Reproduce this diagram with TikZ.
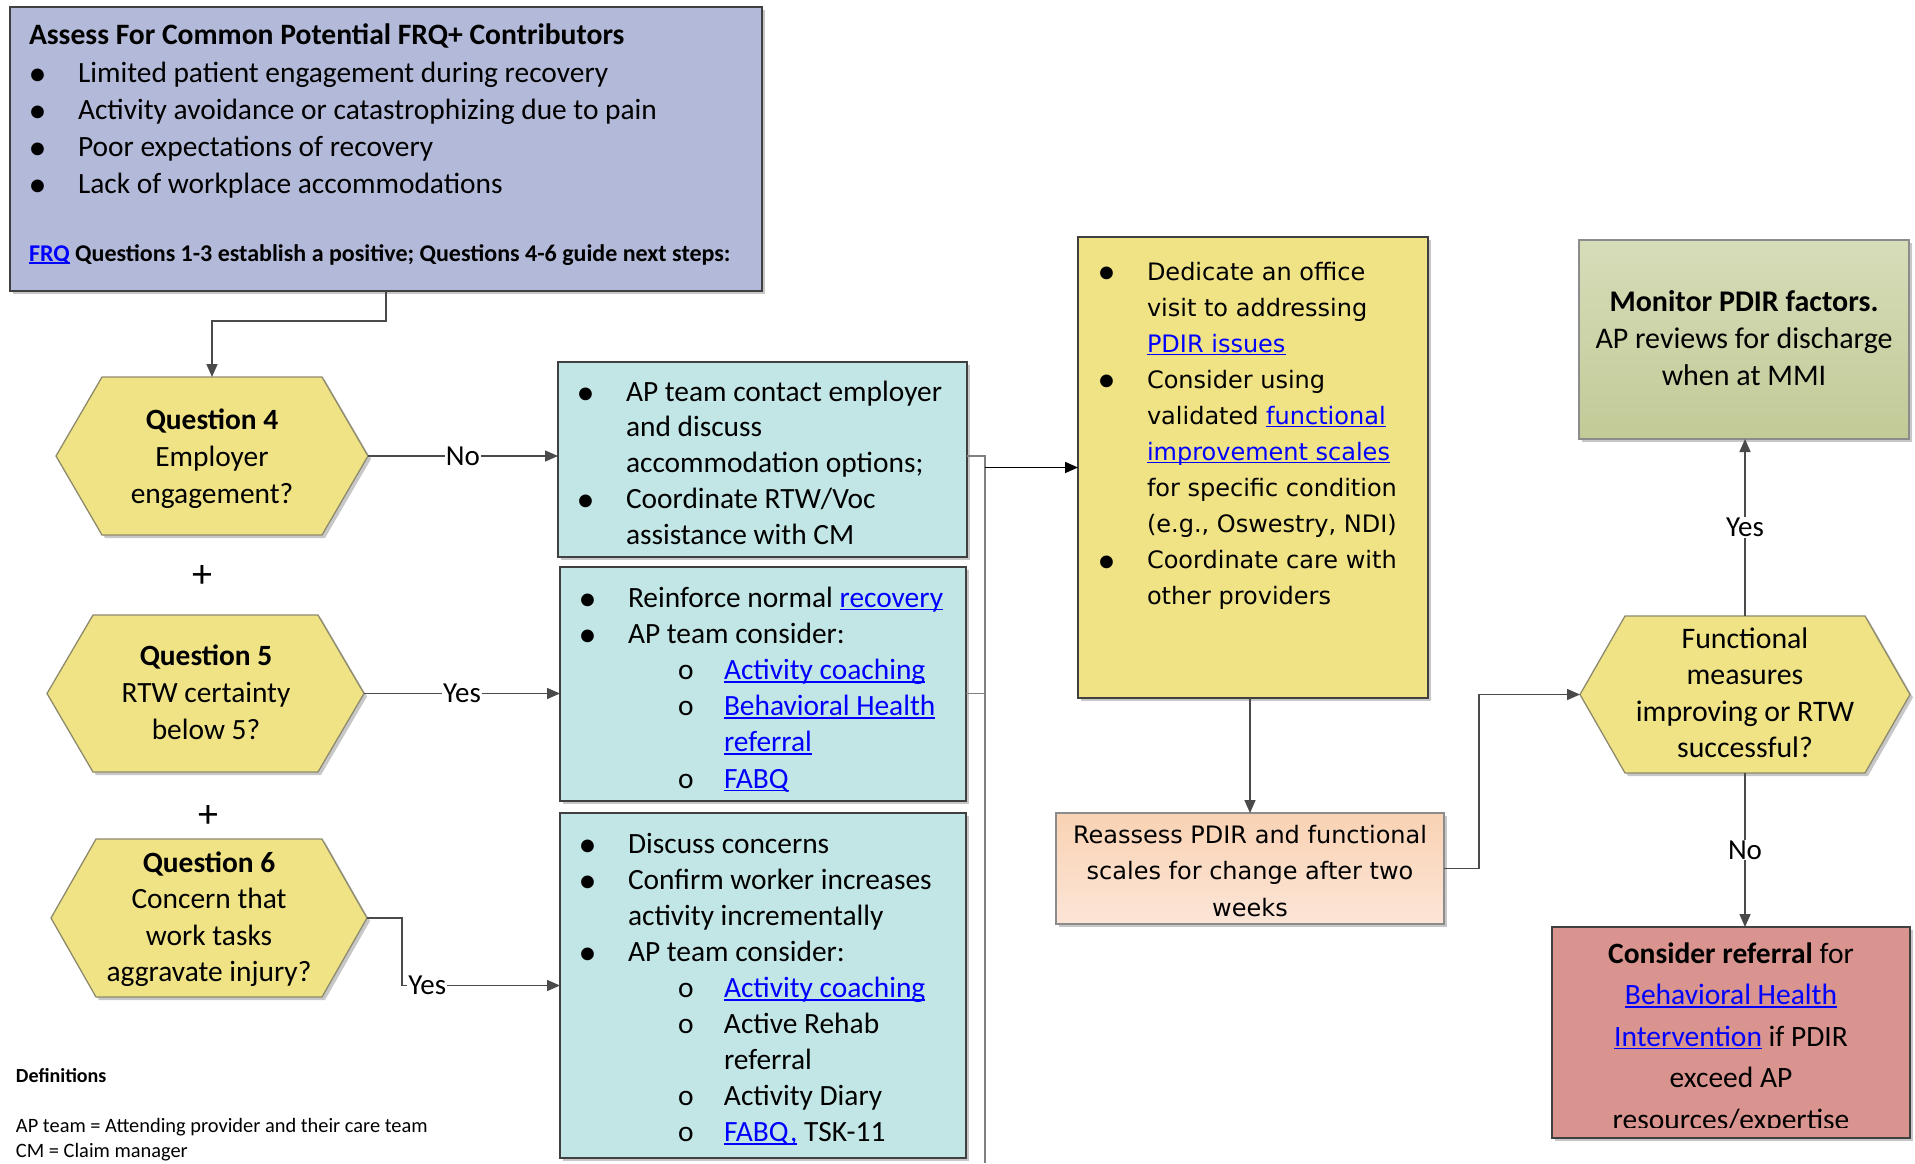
\documentclass[tikz,border=0pt]{standalone}
\usepackage{fontspec}
\usetikzlibrary{arrows.meta,backgrounds,calc,shadows}
\setmainfont{Carlito}
\newfontfamily\ver{DejaVu Sans}
\definecolor{dk}{HTML}{404040}
\definecolor{ln}{HTML}{4A4A4A}
\definecolor{busc}{HTML}{808080}
\definecolor{topfill}{HTML}{B3B9D8}
\definecolor{hexfill}{HTML}{F0E386}
\definecolor{hexline}{HTML}{8E8A6C}
\definecolor{tealfill}{HTML}{C2E6E5}
\definecolor{yfill}{HTML}{F0E386}
\definecolor{peachT}{HTML}{F9D2B3}
\definecolor{peachB}{HTML}{FCE5D7}
\definecolor{grnT}{HTML}{D6DDB9}
\definecolor{grnB}{HTML}{C2CA97}
\definecolor{salfill}{HTML}{D9948F}
\definecolor{lnk}{HTML}{0000FF}
\definecolor{softline}{HTML}{8C8C8C}
\newcommand\fs[2]{\fontsize{#1}{#2}\selectfont}
\newcommand\lk[1]{\textcolor{lnk}{\setbox0\hbox{#1}\rlap{\rule[-0.11em]{\wd0}{0.055em}}\box0}}
\newcommand\bul[1]{\makebox[#1][l]{\hspace*{-1.5pt}\rmfamily\fontsize{36}{36}\selectfont\raisebox{-3.5pt}{\textbullet}}}
\newcommand\subi{\hspace*{98pt}\makebox[46pt][l]{o}}
\newcommand\hexdraw[2]{\draw[hexs] (#1.west) -- ([xshift=#2]#1.north west) -- ([xshift=-#2]#1.north east) -- (#1.east) -- ([xshift=-#2]#1.south east) -- ([xshift=#2]#1.south west) -- cycle;}
\begin{document}
\begin{tikzpicture}[x=1pt,y=-1pt,
  every node/.style={inner sep=0pt, outer sep=0pt},
  shad/.style={drop shadow={shadow xshift=3pt, shadow yshift=-3pt, opacity=0.22, fill=black}},
  box/.style={rectangle, draw=dk, line width=1.8pt, shad},
  softbox/.style={rectangle, draw=softline, line width=1.4pt, shad},
  hexn/.style={rectangle, draw=none},
  hexs/.style={fill=hexfill, draw=hexline, line width=1.3pt, shad},
  arr/.style={draw=ln, line width=1.6pt, -{Triangle[length=13pt,width=11pt]}},
  busl/.style={draw=busc, line width=1.4pt},
  lab/.style={fill=white, inner sep=1pt, font=\fs{29}{30}},
  txt/.style={anchor=base west},
  ctxt/.style={anchor=base}]
\useasboundingbox (0,0) rectangle (1915,1163);
\fill[white] (0,0) rectangle (1915,1163);

% ---------- top box ----------
\node[box, fill=topfill, minimum width=752pt, minimum height=284pt] (top) at (386,149) {};
\node[txt, font=\bfseries\fs{29.6}{36}] (toptitle) at (29,44) {Assess For Common Potential FRQ+ Contributors};
\node[txt, font=\fs{29.4}{37}] (toplist) at (30,82) {\begin{tabular}[t]{@{}l@{}}
\bul{48pt}Limited patient engagement during recovery\\
\bul{48pt}Activity avoidance or catastrophizing due to pain\\
\bul{48pt}Poor expectations of recovery\\
\bul{48pt}Lack of workplace accommodations
\end{tabular}};
\node[txt, font=\bfseries\fs{24}{28}] (topfrq) at (29,261) {\lk{FRQ} Questions 1-3 establish a positive; Questions 4-6 guide next steps:};

% ---------- question hexagons ----------
\node[hexn, minimum width=312pt, minimum height=158pt] (q4) at (212,456) {};
\hexdraw{q4}{46pt}
\node[ctxt, font=\fs{29.4}{37}] (q4t) at (212,429) {\begin{tabular}[t]{@{}c@{}}\textbf{Question 4}\\Employer\\engagement?\end{tabular}};

\node[hexn, minimum width=317pt, minimum height=157pt] (q5) at (205.5,693.5) {};
\hexdraw{q5}{46pt}
\node[ctxt, font=\fs{29.4}{37}] (q5t) at (206,665) {\begin{tabular}[t]{@{}c@{}}\textbf{Question 5}\\RTW certainty\\below 5?\end{tabular}};

\node[hexn, minimum width=316pt, minimum height=158pt] (q6) at (209,918) {};
\hexdraw{q6}{45pt}
\node[ctxt, font=\fs{29.4}{36.5}] (q6t) at (209,872) {\begin{tabular}[t]{@{}c@{}}\textbf{Question 6}\\Concern that\\work tasks\\aggravate injury?\end{tabular}};

\node[font=\fs{40}{40}] (plus1) at (202,576) {+};
\node[font=\fs{40}{40}] (plus2) at (208,816) {+};

% ---------- teal boxes ----------
\node[box, fill=tealfill, minimum width=409pt, minimum height=195pt] (b1) at (762.5,459.5) {};
\node[txt, font=\fs{29.4}{35.8}] (b1t) at (578,401) {\begin{tabular}[t]{@{}l@{}}
\bul{48pt}AP team contact employer\\
\hspace*{48pt}and discuss\\
\hspace*{48pt}accommodation options;\\
\bul{48pt}Coordinate RTW/Voc\\
\hspace*{48pt}assistance with CM
\end{tabular}};

\node[box, fill=tealfill, minimum width=406pt, minimum height=234pt] (b2) at (763,684) {};
\node[txt, font=\fs{29.4}{36.2}] (b2t) at (580,607) {\begin{tabular}[t]{@{}l@{}}
\bul{48pt}Reinforce normal \lk{recovery}\\
\bul{48pt}AP team consider:\\
\subi\lk{Activity coaching}\\
\subi\lk{Behavioral Health}\\
\hspace*{144pt}\lk{referral}\\
\subi\lk{FABQ}
\end{tabular}};

\node[box, fill=tealfill, minimum width=406pt, minimum height=345pt] (b3) at (763,985.5) {};
\node[txt, font=\fs{29.4}{36.1}] (b3t) at (580,853) {\begin{tabular}[t]{@{}l@{}}
\bul{48pt}Discuss concerns\\
\bul{48pt}Confirm worker increases\\
\hspace*{48pt}activity incrementally\\
\bul{48pt}AP team consider:\\
\subi\lk{Activity coaching}\\
\subi Active Rehab\\
\hspace*{144pt}referral\\
\subi Activity Diary\\
\subi\lk{FABQ,} TSK-11
\end{tabular}};

% ---------- definitions ----------
\node[txt, font=\bfseries\fs{20}{24}] (def0) at (16,1082) {Definitions};
\node[txt, font=\fs{20.4}{25}] (def1) at (16,1132) {\begin{tabular}[t]{@{}l@{}}
AP team = Attending provider and their care team\\
CM = Claim manager
\end{tabular}};

% ---------- yellow box ----------
\node[box, fill=yfill, minimum width=350pt, minimum height=461pt] (yb) at (1253,467.5) {};
\node[txt, font=\ver\fs{24}{36.1}] (ybt) at (1099,280) {\begin{tabular}[t]{@{}l@{}}
\bul{48pt}Dedicate an office\\
\hspace*{48pt}visit to addressing\\
\hspace*{48pt}\lk{PDIR issues}\\
\bul{48pt}Consider using\\
\hspace*{48pt}validated \lk{functional}\\
\hspace*{48pt}\lk{improvement scales}\\
\hspace*{48pt}for specific condition\\
\hspace*{48pt}(e.g., Oswestry, NDI)\\
\bul{48pt}Coordinate care with\\
\hspace*{48pt}other providers
\end{tabular}};

% ---------- reassess ----------
\node[softbox, top color=peachT, bottom color=peachB, minimum width=388pt, minimum height=111pt] (rb) at (1250,868.5) {};
\node[ctxt, font=\ver\fs{24}{36.5}] (rbt) at (1250,843) {\begin{tabular}[t]{@{}c@{}}Reassess PDIR and functional\\scales for change after two\\weeks\end{tabular}};

% ---------- functional hexagon ----------
\node[hexn, minimum width=330pt, minimum height=157pt] (fh) at (1745,694.5) {};
\hexdraw{fh}{45pt}
\node[ctxt, font=\fs{29.8}{36.5}] (fht) at (1745,648) {\begin{tabular}[t]{@{}c@{}}Functional\\measures\\improving or RTW\\successful?\end{tabular}};

% ---------- monitor ----------
\node[softbox, top color=grnT, bottom color=grnB, minimum width=330pt, minimum height=199pt] (mb) at (1744,339.5) {};
\node[ctxt, font=\fs{30}{37}] (mbt) at (1744,311) {\begin{tabular}[t]{@{}c@{}}\textbf{Monitor PDIR factors.}\\AP reviews for discharge\\when at MMI\end{tabular}};

% ---------- consider ----------
\node[box, fill=salfill, minimum width=358pt, minimum height=211pt] (cb) at (1731,1032.5) {};
\begin{scope}
\clip (1552,927) rectangle (1910,1127);
\node[ctxt, font=\fs{29.5}{41.5}] (cbt) at (1731,963) {\begin{tabular}[t]{@{}c@{}}\textbf{Consider referral} for\\\lk{Behavioral Health}\\\lk{Intervention} if PDIR\\exceed AP\\resources/expertise\end{tabular}};
\end{scope}

% ---------- connectors ----------
\draw[arr] (top.south) -- ++(0,30) -| (q4.north);
\draw[arr] (q4.east) -- node[lab] (l1) {No} (q4.east -| b1.west);
\draw[arr] (q5.east) -- node[lab] (l2) {Yes} (q5.east -| b2.west);
\draw[arr] (q6.east) -- ++(35,0) |- node[lab, pos=0.58] (l3) {Yes} (b3.west);

\coordinate (bustop) at (985,456);
\coordinate (busbot) at (985,1163);
\draw[busl] (b1.east |- bustop) -- (bustop) -- (busbot);
\draw[busl] (b2.east |- q5.east) -- (q5.east -| bustop);
\draw[arr, draw=black] (yb.west -| bustop) -- (yb.west);

\draw[arr] (rb.north |- yb.south) -- (rb.north);
\draw[arr] (rb.east) -- ++(35,0) |- (fh.west);
\draw[arr] (fh.north) -- node[lab] (l4) {Yes} (fh.north |- mb.south);
\draw[arr] (fh.south) -- node[lab] (l5) {No} (fh.south |- cb.north);
\end{tikzpicture}
\end{document}
